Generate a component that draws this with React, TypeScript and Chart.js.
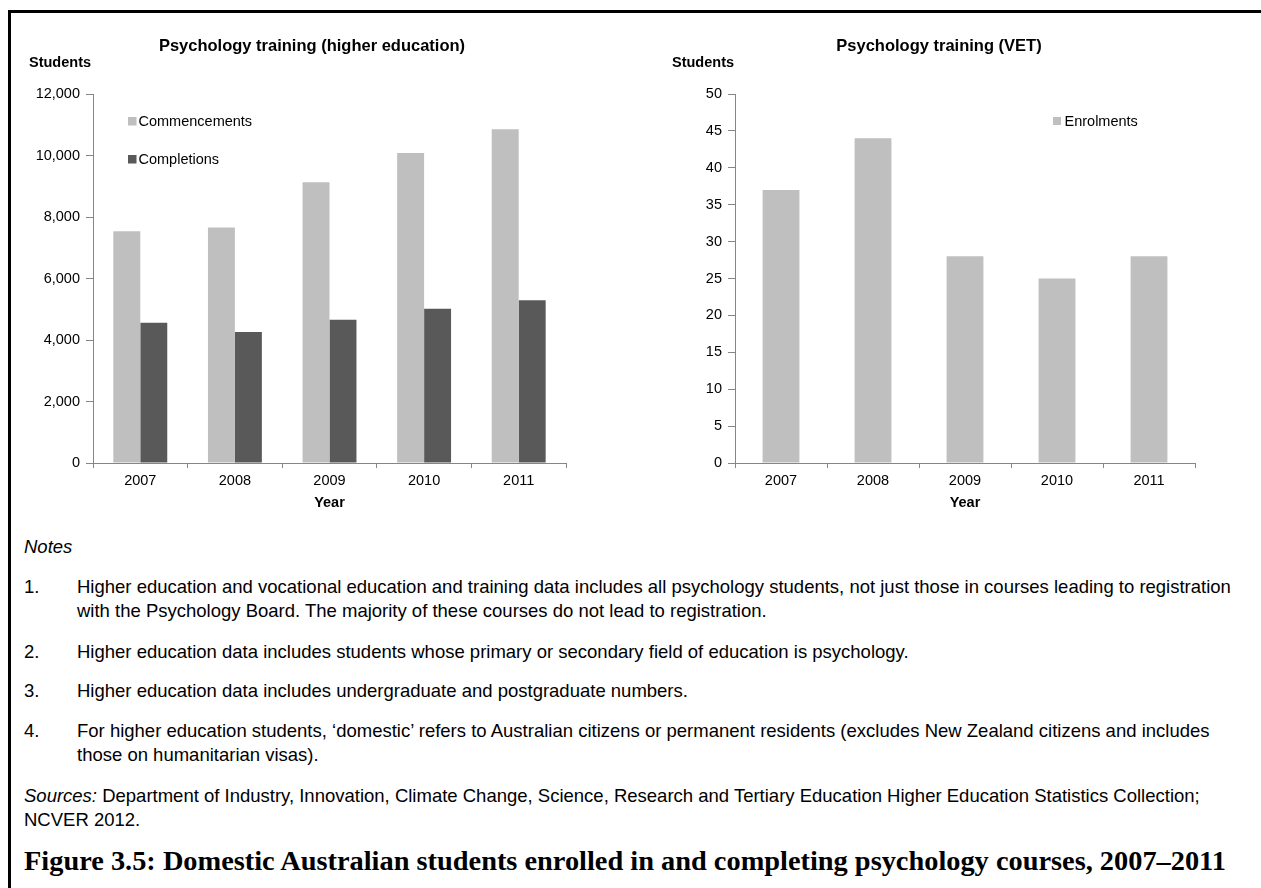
import React, { useEffect, useRef, useMemo } from "react";
import { Chart, registerables } from "chart.js";

Chart.register(...registerables);

// ---------- data ----------
const years = ["2007", "2008", "2009", "2010", "2011"];
const commencements = [7540, 7660, 9130, 10080, 10850];
const completions = [4560, 4260, 4660, 5020, 5290];
const vetEnrolments = [37, 44, 28, 25, 28];

const heTitle = "Psychology training (higher education)";
const vetTitle = "Psychology training (VET)";
const yAxisLabel = "Students";
const xAxisLabel = "Year";
const heSeriesNames = ["Commencements", "Completions"];
const vetSeriesNames = ["Enrolments"];

const notesHeading = "Notes";
const noteNumbers = ["1.", "2.", "3.", "4."];
const noteLines = [
  [
    "Higher education and vocational education and training data includes all psychology students, not just those in courses leading to registration",
    "with the Psychology Board. The majority of these courses do not lead to registration.",
  ],
  ["Higher education data includes students whose primary or secondary field of education is psychology."],
  ["Higher education data includes undergraduate and postgraduate numbers."],
  [
    "For higher education students, \u2018domestic\u2019 refers to Australian citizens or permanent residents (excludes New Zealand citizens and includes",
    "those on humanitarian visas).",
  ],
];
const sourcesLabel = "Sources:";
const sourcesLines = [
  " Department of Industry, Innovation, Climate Change, Science, Research and Tertiary Education Higher Education Statistics Collection;",
  "NCVER 2012.",
];
const captionText =
  "Figure 3.5: Domestic Australian students enrolled in and completing psychology courses, 2007\u20132011";

// ---------- styling ----------
const SANS = '"Liberation Sans", Arial, sans-serif';
const SERIF = '"Liberation Serif", "Times New Roman", serif';
const AXIS = "#868686";
const LIGHT = "#BFBFBF";
const DARK = "#595959";
const TICK_SIZE = 14.5;

const insideLegend = {
  id: "insideLegend",
  afterDatasetsDraw(chart: any, _args: any, opts: any) {
    const ctx = chart.ctx;
    ctx.save();
    ctx.font = `${opts.fontSize}px ${SANS}`;
    ctx.textBaseline = "middle";
    ctx.textAlign = "left";
    chart.data.datasets.forEach((ds: any, i: number) => {
      const y = opts.y + i * opts.spacing;
      ctx.fillStyle = ds.backgroundColor;
      ctx.fillRect(opts.x, y, opts.box, opts.box);
      ctx.fillStyle = "#000";
      ctx.fillText(ds.label, opts.x + opts.box + opts.gap, y + opts.box / 2 + 0.5);
    });
    ctx.restore();
  },
};

function buildConfig(
  datasets: any[],
  yMax: number,
  yStep: number,
  catPct: number,
  yWidth: number,
  padRight: number,
  legend: any
): any {
  return {
    type: "bar",
    data: { labels: years, datasets },
    plugins: [insideLegend],
    options: {
      responsive: false,
      animation: false,
      locale: "en-US",
      layout: { padding: { top: 94, right: padRight, bottom: 0, left: 0 } },
      datasets: { bar: { categoryPercentage: catPct, barPercentage: 1.0 } },
      plugins: {
        legend: { display: false },
        tooltip: { enabled: false },
        title: { display: false },
        insideLegend: legend,
      },
      scales: {
        x: {
          offset: true,
          grid: { drawOnChartArea: false, tickLength: 5, color: AXIS, offset: true },
          border: { color: AXIS, width: 1 },
          ticks: {
            font: { family: SANS, size: TICK_SIZE },
            color: "#000",
            padding: 4,
            maxRotation: 0,
            autoSkip: false,
          },
          title: {
            display: true,
            text: xAxisLabel,
            font: { family: SANS, size: TICK_SIZE, weight: "bold" },
            color: "#000",
            padding: { top: 0, bottom: 18 },
          },
          afterFit: (s: any) => {
            s.height = 67;
          },
        },
        y: {
          min: 0,
          max: yMax,
          ticks: {
            stepSize: yStep,
            font: { family: SANS, size: TICK_SIZE },
            color: "#000",
            padding: 6,
          },
          grid: { drawOnChartArea: false, tickLength: 7, color: AXIS },
          border: { color: AXIS, width: 1 },
          afterFit: (s: any) => {
            s.width = yWidth;
          },
        },
      },
    },
  };
}

function BarCanvas({ config, left, width, height }: any) {
  const ref = useRef<HTMLCanvasElement | null>(null);
  useEffect(() => {
    if (!ref.current) return;
    const chart = new Chart(ref.current, config);
    return () => chart.destroy();
  }, [config]);
  return (
    <canvas
      ref={ref}
      width={width}
      height={height}
      style={{ position: "absolute", left, top: 0, width, height }}
    />
  );
}

function fitFontSize(text: string, font: string, target: number): number {
  const c = document.createElement("canvas");
  const ctx = c.getContext("2d");
  if (!ctx) return 25;
  ctx.font = `bold 100px ${font}`;
  const w = ctx.measureText(text).width;
  return (100 * target) / w;
}

const abs = (extra: any) => ({ position: "absolute" as const, ...extra });

export default function App() {
  const heConfig = useMemo(
    () =>
      buildConfig(
        [
          { label: heSeriesNames[0], data: commencements, backgroundColor: LIGHT, borderWidth: 0 },
          { label: heSeriesNames[1], data: completions, backgroundColor: DARK, borderWidth: 0 },
        ],
        12000,
        2000,
        0.57,
        93,
        34,
        { x: 128, y: 117, spacing: 38, box: 8.5, gap: 2, fontSize: TICK_SIZE }
      ),
    []
  );
  const vetConfig = useMemo(
    () =>
      buildConfig(
        [{ label: vetSeriesNames[0], data: vetEnrolments, backgroundColor: LIGHT, borderWidth: 0 }],
        50,
        5,
        0.4,
        115,
        65,
        { x: 433, y: 117, spacing: 38, box: 8, gap: 3.5, fontSize: TICK_SIZE }
      ),
    []
  );

  const captionSize = useMemo(() => fitFontSize(captionText, SERIF, 1204), []);

  const noteFont = 18.5;
  const LH = 24.5;
  const noteCenters = [587, 652, 691, 731];

  const textBase = { fontFamily: SANS, color: "#000", whiteSpace: "nowrap" as const };

  return (
    <div
      style={{
        position: "absolute",
        left: 0,
        top: 0,
        width: 1261,
        height: 888,
        overflow: "hidden",
        background: "#fff",
      }}
    >
      <div
        style={abs({
          left: 8,
          top: 10,
          width: 1400,
          height: 1000,
          borderTop: "3px solid #000",
          borderLeft: "3px solid #000",
        })}
      />

      <BarCanvas config={heConfig} left={0} width={600} height={530} />
      <BarCanvas config={vetConfig} left={620} width={640} height={530} />

      {/* chart titles and axis captions */}
      <div
        style={abs({
          ...textBase,
          left: 112,
          width: 400,
          top: 35,
          lineHeight: "20px",
          textAlign: "center",
          fontSize: 16.5,
          fontWeight: "bold",
        })}
      >
        {heTitle}
      </div>
      <div
        style={abs({
          ...textBase,
          left: 739,
          width: 400,
          top: 35,
          lineHeight: "20px",
          textAlign: "center",
          fontSize: 16.5,
          fontWeight: "bold",
        })}
      >
        {vetTitle}
      </div>
      <div style={abs({ ...textBase, left: 29, top: 53, lineHeight: "18px", fontSize: TICK_SIZE, fontWeight: "bold" })}>
        {yAxisLabel}
      </div>
      <div style={abs({ ...textBase, left: 672, top: 53, lineHeight: "18px", fontSize: TICK_SIZE, fontWeight: "bold" })}>
        {yAxisLabel}
      </div>

      {/* notes */}
      <div
        style={abs({
          ...textBase,
          left: 24,
          top: 547 - LH / 2,
          lineHeight: `${LH}px`,
          fontSize: noteFont,
          fontStyle: "italic",
        })}
      >
        {notesHeading}
      </div>
      {noteLines.map((lines, i) => (
        <React.Fragment key={i}>
          <div
            style={abs({
              ...textBase,
              left: 24,
              top: noteCenters[i] - LH / 2,
              lineHeight: `${LH}px`,
              fontSize: noteFont,
            })}
          >
            {noteNumbers[i]}
          </div>
          <div
            style={abs({
              ...textBase,
              left: 77,
              top: noteCenters[i] - LH / 2,
              lineHeight: `${LH}px`,
              fontSize: noteFont,
            })}
          >
            {lines.map((l, j) => (
              <div key={j}>{l}</div>
            ))}
          </div>
        </React.Fragment>
      ))}
      <div
        style={abs({
          ...textBase,
          left: 24,
          top: 796 - LH / 2,
          lineHeight: `${LH}px`,
          fontSize: noteFont,
        })}
      >
        <div>
          <i>{sourcesLabel}</i>
          {sourcesLines[0]}
        </div>
        <div>{sourcesLines[1]}</div>
      </div>

      {/* caption */}
      <div
        style={abs({
          whiteSpace: "nowrap",
          color: "#000",
          left: 24,
          top: 861 - 16,
          lineHeight: "32px",
          fontFamily: SERIF,
          fontWeight: "bold",
          fontSize: captionSize,
        })}
      >
        {captionText}
      </div>
    </div>
  );
}
